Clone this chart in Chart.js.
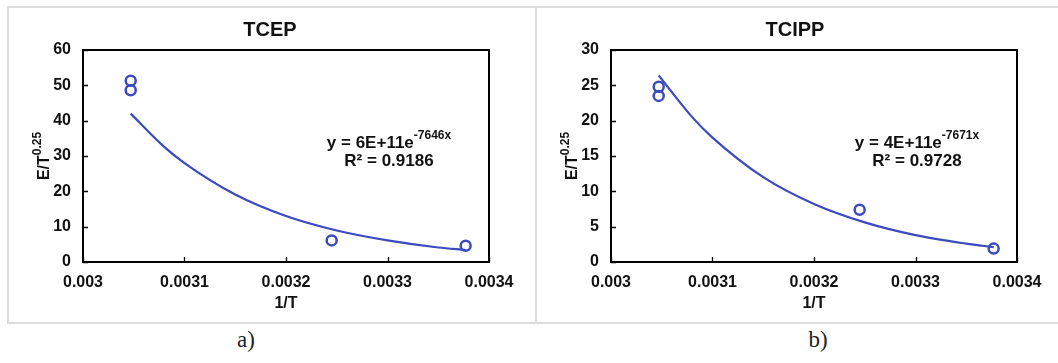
<!DOCTYPE html>
<html>
<head>
<meta charset="utf-8">
<script src="https://cdn.jsdelivr.net/npm/chart.js"></script>
<style>
  body { margin: 0; background: #fff; width: 1058px; height: 363px; position: relative; overflow: hidden; }
  .frame { position: absolute; left: 7px; top: 6px; width: 1060px; height: 314px; border: 2px solid #dcdcdc; }
  .sep { position: absolute; left: 535px; top: 6px; width: 2px; height: 318px; background: #dcdcdc; }
  .box { position: absolute; top: 7px; height: 315px; }
  .cap { position: absolute; top: 327px; font: 23px "Liberation Serif", serif; color: #222; transform: translateX(-50%); }
</style>
</head>
<body>
<div class="frame"></div>
<div class="sep"></div>
<div class="box" style="left:8px;width:528px"><canvas id="tcepChart"></canvas></div>
<div class="box" style="left:536px;width:522px"><canvas id="tcippChart"></canvas></div>
<div class="cap" style="left:246px">a)</div>
<div class="cap" style="left:818px">b)</div>

<script>
// measured points, x = 1/T
const pointX = [0.003047, 0.003047, 0.003245, 0.003377];
const tcepY = [51.3, 48.6, 6.1, 4.6];
const tcippY = [24.8, 23.5, 7.4, 1.9];

// trend line
const fitX = [0.003047, 0.00308, 0.0031, 0.00315, 0.0032, 0.00325, 0.0033, 0.00335, 0.003377];
const tcepFitY = [42.0, 32.6, 28.0, 19.1, 13.0, 8.9, 6.1, 4.1, 3.4];
const tcippFitY = [26.4, 20.5, 17.6, 12.0, 8.2, 5.6, 3.8, 2.6, 2.1];

const xTicks = [0.003, 0.0031, 0.0032, 0.0033, 0.0034];

const blue = "#3b4bbf";
const boldFont = '"Liberation Sans", Arial, sans-serif';

function toPoints(xs, ys) {
    return xs.map((x, i) => ({ x: x, y: ys[i] }));
}

const decorPlugin = {
    id: "decor",
    afterDraw(chart) {
        const o = chart.options.plugins.decor;
        const ctx = chart.ctx;
        const a = chart.chartArea;
        const sx = chart.scales.x, sy = chart.scales.y;
        ctx.save();
        ctx.strokeStyle = "#000";
        ctx.lineWidth = 2;
        ctx.strokeRect(a.left, a.top, a.right - a.left, a.bottom - a.top);

        // inward tick marks
        ctx.lineWidth = 1.3;
        ctx.beginPath();
        sx.ticks.forEach(t => {
            const px = Math.round(sx.getPixelForValue(t.value)) + 0.5;
            ctx.moveTo(px, a.bottom);
            ctx.lineTo(px, a.bottom - 5);
        });
        sy.ticks.forEach(t => {
            const py = Math.round(sy.getPixelForValue(t.value)) + 0.5;
            ctx.moveTo(a.left, py);
            ctx.lineTo(a.left + 5, py);
        });
        ctx.stroke();

        ctx.fillStyle = "#111";
        ctx.textBaseline = "middle";
        ctx.textAlign = "center";

        // title
        ctx.font = "bold 20px " + boldFont;
        ctx.fillText(o.title, chart.width / 2 - 2, 23);

        // x title
        ctx.font = "bold 16px " + boldFont;
        ctx.fillText("1/T", (a.left + a.right) / 2, 297);

        // y title with superscript
        ctx.save();
        ctx.translate(35, (a.top + a.bottom) / 2);
        ctx.rotate(-Math.PI / 2);
        ctx.font = "bold 16px " + boldFont;
        const w1 = ctx.measureText("E/T").width;
        ctx.font = "bold 12px " + boldFont;
        const w2 = ctx.measureText("0.25").width;
        ctx.textAlign = "left";
        ctx.font = "bold 16px " + boldFont;
        ctx.fillText("E/T", -(w1 + w2) / 2, 2);
        ctx.font = "bold 12px " + boldFont;
        ctx.fillText("0.25", -(w1 + w2) / 2 + w1, -5);
        ctx.restore();

        // equation
        const cx = a.left + o.eqX;
        ctx.textAlign = "left";
        ctx.font = "bold 17px " + boldFont;
        const e1 = ctx.measureText(o.eqMain).width;
        ctx.font = "bold 12px " + boldFont;
        const e2 = ctx.measureText(o.eqExp).width;
        const ex = cx - (e1 + e2) / 2;
        ctx.font = "bold 17px " + boldFont;
        ctx.fillText(o.eqMain, ex, 136);
        ctx.font = "bold 12px " + boldFont;
        ctx.fillText(o.eqExp, ex + e1, 129);
        ctx.textAlign = "center";
        ctx.font = "bold 17px " + boldFont;
        ctx.fillText(o.r2, cx, 154);
        ctx.restore();
    }
};

function makeChart(canvasId, ys, fitYs, yMax, yStep, padRight, title, eqMain, eqExp, r2) {
    new Chart(document.getElementById(canvasId), {
        type: "scatter",
        data: {
            datasets: [{
                data: toPoints(pointX, ys),
                borderColor: blue,
                backgroundColor: "rgba(0,0,0,0)",
                borderWidth: 2.5,
                pointRadius: 5,
                showLine: false
            }, {
                data: toPoints(fitX, fitYs),
                borderColor: blue,
                borderWidth: 2.2,
                pointRadius: 0,
                showLine: true,
                tension: 0.4,
                cubicInterpolationMode: "monotone"
            }]
        },
        plugins: [decorPlugin],
        options: {
            responsive: true,
            maintainAspectRatio: false,
            animation: false,
            layout: { padding: { left: 0, top: 43, right: padRight, bottom: 0 } },
            plugins: {
                legend: { display: false },
                tooltip: { enabled: false },
                decor: { title: title, eqMain: eqMain, eqExp: eqExp, r2: r2, eqX: 306 }
            },
            scales: {
                x: {
                    type: "linear",
                    min: 0.003,
                    max: 0.0034,
                    afterFit: s => { s.height = 60; },
                    afterBuildTicks: s => { s.ticks = xTicks.map(v => ({ value: v })); },
                    grid: { display: false, drawTicks: false },
                    border: { display: false },
                    ticks: {
                        padding: 11,
                        color: "#111",
                        font: { family: boldFont, size: 16, weight: "bold" },
                        maxRotation: 0,
                        callback: v => String(parseFloat(v.toFixed(4)))
                    }
                },
                y: {
                    min: 0,
                    max: yMax,
                    afterFit: s => { s.width = 75; },
                    grid: { display: false, drawTicks: false },
                    border: { display: false },
                    ticks: {
                        stepSize: yStep,
                        padding: 12,
                        color: "#111",
                        font: { family: boldFont, size: 16, weight: "bold" }
                    }
                }
            }
        }
    });
}

makeChart("tcepChart", tcepY, tcepFitY, 60, 10, 47, "TCEP", "y = 6E+11e", "-7646x", "R\u00b2 = 0.9186");
makeChart("tcippChart", tcippY, tcippFitY, 30, 5, 41, "TCIPP", "y = 4E+11e", "-7671x", "R\u00b2 = 0.9728");
</script>
</body>
</html>
